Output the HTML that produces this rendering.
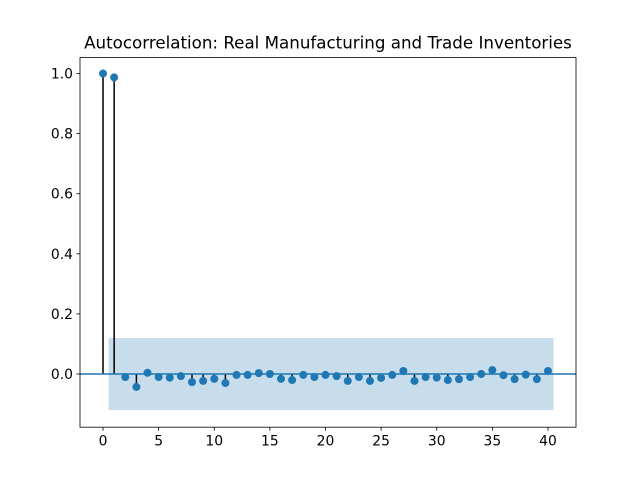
<!DOCTYPE html>
<html><head><meta charset="utf-8"><style>
body{margin:0;background:#fff}
svg{display:block;font-family:"DejaVu Sans","Liberation Sans",sans-serif}
</style></head><body>
<svg id="chart" width="640" height="480"></svg>
<script>
const lags = [];
for (let i = 0; i <= 40; i++) lags.push(i);
const acfValues = [1.0,0.987,-0.01,-0.043,0.004,-0.01,-0.012,-0.007,-0.027,-0.023,-0.016,-0.03,-0.003,-0.003,0.003,0.0,-0.016,-0.02,-0.003,-0.01,-0.003,-0.007,-0.023,-0.01,-0.023,-0.013,-0.003,0.01,-0.023,-0.01,-0.012,-0.02,-0.017,-0.01,0.0,0.013,-0.004,-0.017,-0.002,-0.017,0.01];
const confBand = [-0.12, 0.12];
const xTicks = [0,5,10,15,20,25,30,35,40];
const yTicks = [0.0,0.2,0.4,0.6,0.8,1.0];

const L=80,R=576,T=57.6,B=427.2;
const xMin=-2.07,xMax=42.52,yMin=-0.177,yMax=1.053;
const X=v=>L+(v-xMin)/(xMax-xMin)*(R-L);
const Y=v=>B-(v-yMin)/(yMax-yMin)*(B-T);
const NS="http://www.w3.org/2000/svg";
const svg=document.getElementById('chart');
function mk(tag,attrs,parent){const e=document.createElementNS(NS,tag);for(const k in attrs)e.setAttribute(k,attrs[k]);(parent||svg).appendChild(e);return e;}

const band=mk('rect',{x:X(0.5),y:Y(confBand[1]),width:X(40.5)-X(0.5),height:Y(confBand[0])-Y(confBand[1]),fill:'#1f77b4','fill-opacity':0.25});



lags.forEach((l,i)=>{
  const s=mk('line',{x1:X(l),x2:X(l),y1:Y(0),y2:Y(acfValues[i]),stroke:'#000','stroke-width':1.5});
  
  
});
const zl=mk('line',{x1:L,x2:R,y1:Y(0),y2:Y(0),stroke:'#1f77b4','stroke-width':1.5});


lags.forEach((l,i)=>{
  const c=mk('circle',{cx:X(l),cy:Y(acfValues[i]),r:4,fill:'#1f77b4'});
  
  
});

const frame=mk('rect',{x:L,y:T,width:R-L,height:B-T,fill:'none',stroke:'#000','stroke-width':0.8});



xTicks.forEach(t=>{
  mk('line',{x1:X(t),x2:X(t),y1:B,y2:B+3.5,stroke:'#000','stroke-width':0.8});
  const tx=mk('text',{x:X(t),y:B+18.5,'text-anchor':'middle','font-size':'13.9px',fill:'#000'});
  tx.textContent=t;
  
  
});
yTicks.forEach(t=>{
  mk('line',{x1:L-3.5,x2:L,y1:Y(t),y2:Y(t),stroke:'#000','stroke-width':0.8});
  const tx=mk('text',{x:L-7,y:Y(t)+5,'text-anchor':'end','font-size':'13.9px',fill:'#000'});
  tx.textContent=t.toFixed(1);
  
  
});
const title=mk('text',{x:(L+R)/2,y:T-9,'text-anchor':'middle','font-size':'16.7px',fill:'#000'});
title.textContent='Autocorrelation: Real Manufacturing and Trade Inventories';


</script>
</body></html>
